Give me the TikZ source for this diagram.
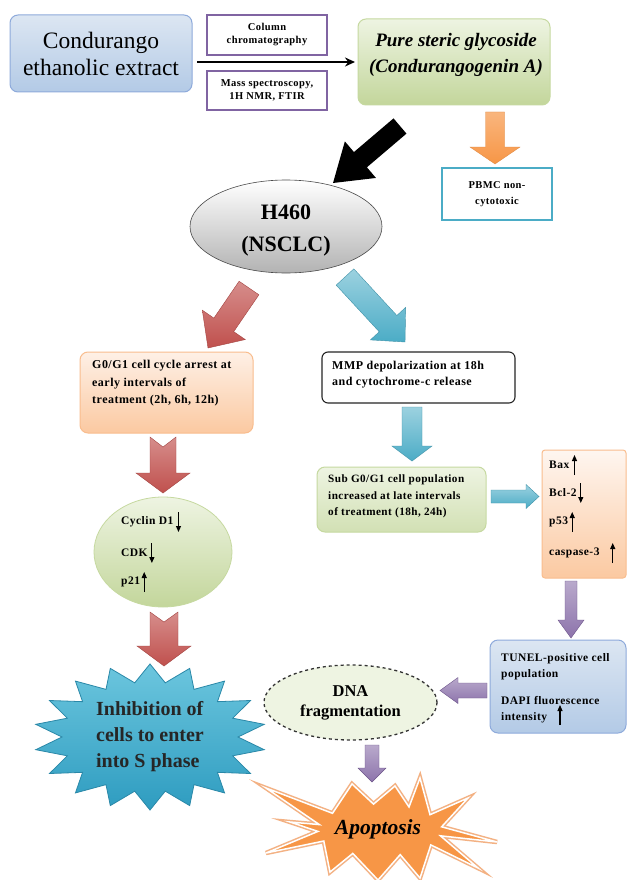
\documentclass[tikz,border=0pt]{standalone}
\usepackage{fontspec}
\setmainfont{Liberation Serif}
\newfontfamily\wideserif[LetterSpace=4]{Liberation Serif}
\usetikzlibrary{calc,shapes.geometric,arrows.meta}

\definecolor{blueA}{HTML}{DCE6F2}
\definecolor{blueB}{HTML}{B3CAE6}
\definecolor{blueBorder}{HTML}{8EAADB}
\definecolor{greenA}{HTML}{EEF4E2}
\definecolor{greenB}{HTML}{C3D69B}
\definecolor{greenBorder}{HTML}{C6D9A0}
\definecolor{orangeA}{HTML}{FEF0E6}
\definecolor{orangeB}{HTML}{FBC9A1}
\definecolor{orangeBorder}{HTML}{F9BD8E}
\definecolor{purpleB}{HTML}{8064A2}
\definecolor{cyanB}{HTML}{4BACC6}
\definecolor{redA}{HTML}{C0504D}
\definecolor{orangeFill}{HTML}{F79646}
\definecolor{orangeLight}{HTML}{F3B183}
\definecolor{starTop}{HTML}{6CC6DE}
\definecolor{starBot}{HTML}{2E9CC0}
\definecolor{starBorder}{HTML}{2A88A8}

% block arrow: style, start, end, shaft half-width, head half-width, head length, notch depth
\newcommand{\blkarrow}[7]{%
  \path ($(#3)!#6!(#2)$) coordinate (hb);
  \path[#1] ($(#2)!#4!90:(#3)$) -- ($(hb)!#4!90:(#3)$) -- ($(hb)!#5!90:(#3)$) -- (#3)
    -- ($(hb)!#5!-90:(#3)$) -- ($(hb)!#4!-90:(#3)$) -- ($(#2)!#4!-90:(#3)$)
    -- ($(#2)!#7!(#3)$) -- cycle;
}

\tikzset{
  bluebox/.style={draw=blueBorder, line width=1pt, rounded corners=8pt, top color=blueA, bottom color=blueB},
  greenbox/.style={draw=greenBorder, line width=1pt, rounded corners=8pt, top color=greenA, bottom color=greenB},
  orangebox/.style={draw=orangeBorder, line width=1pt, rounded corners=8pt, top color=orangeA, bottom color=orangeB},
  methodbox/.style={draw=purpleB, line width=1.6pt, fill=white, minimum width=120pt, minimum height=40pt,
    align=center, font=\wideserif\bfseries\fontsize{10.5}{13}\selectfont},
  smalltxt/.style={font=\wideserif\bfseries\fontsize{11.5}{16.5}\selectfont, inner sep=1pt, align=left},
  smallarrow/.style={line width=1.1pt, -{Triangle[length=6pt,width=5pt]}},
  redarrow/.style={top color=redA!65, bottom color=redA, draw=redA!85!black, line width=0.4pt},
  bluearrow/.style={top color=cyanB!55, bottom color=cyanB, draw=cyanB!85!black, line width=0.4pt},
  purplearrow/.style={top color=purpleB!55, bottom color=purpleB!90, draw=purpleB!85!black, line width=0.4pt},
  orangearrow/.style={top color=orangeFill!70, bottom color=orangeFill, draw=orangeFill!90!black, line width=0.3pt},
}

\begin{document}
\begin{tikzpicture}[x=1pt, y=-1pt]
\useasboundingbox (0,0) rectangle (627,880);
\fill[white] (0,0) rectangle (627,880);

% ---------- top row ----------
\node[bluebox, minimum width=182pt, minimum height=77pt, align=center,
      font=\fontsize{23.5}{27}\selectfont] (cond) at (101,53.5) {Condurango\\ethanolic extract};
\node[methodbox] (col) at (267,35) {Column\\chromatography};
\node[methodbox, minimum height=39pt] (mass) at (267,90.5) {Mass spectroscopy,\\1H NMR, FTIR};
\node[greenbox, minimum width=192pt, minimum height=86pt] (pure) at (454,62) {};
\node[align=center, font=\bfseries\itshape\fontsize{19}{26}\selectfont] (pureT) at (456,55)
      {Pure steric glycoside\\(Condurangogenin A)};
\coordinate (t1) at (197,62);
\coordinate (t2) at (355,62);
\draw[line width=1.6pt, -{Stealth[length=10pt,width=9pt]}] (t1) -- (t2);

\coordinate (o1) at (495,112);
\coordinate (o2) at (495,164);
\blkarrow{orangearrow}{o1}{o2}{9.5pt}{25pt}{17pt}{0pt}
\node[draw=cyanB, line width=1.6pt, fill=white, minimum width=110pt, minimum height=52pt, align=center,
      font=\wideserif\bfseries\fontsize{10.5}{16}\selectfont] (pbmc) at (497,194) {PBMC non-\\cytotoxic};

\coordinate (k1) at (400,126);
\coordinate (k2) at (333,183);
\blkarrow{fill=black}{k1}{k2}{10pt}{24pt}{36pt}{0pt}

% ---------- H460 ----------
\node[ellipse, draw=gray!60!black, line width=0.6pt, top color=white, bottom color=gray!60,
      minimum width=192pt, minimum height=93pt] (h460) at (286,226.5) {};
\node[align=center, font=\bfseries\fontsize{22}{32}\selectfont] (h460t) at (286,231) {H460\\(NSCLC)};

\coordinate (r1) at (249,288);
\coordinate (r2) at (208,348);
\blkarrow{redarrow}{r1}{r2}{12pt}{26pt}{28pt}{0pt}
\coordinate (b1) at (345,277);
\coordinate (b2) at (405,342);
\blkarrow{bluearrow}{b1}{b2}{12pt}{24pt}{25pt}{0pt}

% ---------- second row ----------
\node[orangebox, minimum width=173pt, minimum height=81pt] (g0) at (166.5,392.5) {};
\node[smalltxt, font=\wideserif\bfseries\fontsize{12}{17.5}\selectfont, anchor=north west] (g0t) at (91,359)
      {G0/G1 cell cycle arrest at\\early intervals of\\treatment (2h, 6h, 12h)};
\node[draw=black!85, line width=1.1pt, rounded corners=6pt, fill=white, minimum width=193pt, minimum height=51pt] (mmp) at (418.5,377.5) {};
\node[smalltxt, font=\wideserif\bfseries\fontsize{12}{16}\selectfont, anchor=north west] (mmpt) at (331,360)
      {MMP depolarization at 18h\\and cytochrome-c release};

\coordinate (r3) at (163,437);
\coordinate (r4) at (163,493);
\blkarrow{redarrow}{r3}{r4}{13pt}{27pt}{20pt}{10pt}
\coordinate (b3) at (412,407);
\coordinate (b4) at (412,461);
\blkarrow{bluearrow}{b3}{b4}{10pt}{20pt}{15pt}{0pt}

% ---------- circle ----------
\node[ellipse, draw=greenBorder, line width=0.8pt, top color=greenA, bottom color=greenB,
      minimum width=138pt, minimum height=110pt] (circ) at (163,552) {};
\node[smalltxt, anchor=west] (cyc) at (120,522) {Cyclin D1};
\node[smalltxt, anchor=west] (cdk) at (120,553) {CDK};
\node[smalltxt, anchor=west] (p21) at (120,582) {p21};
\draw[smallarrow] ($(cyc.east)+(4,-10)$) -- ($(cyc.east)+(4,10)$);
\draw[smallarrow] ($(cdk.east)+(3,-10)$) -- ($(cdk.east)+(3,10)$);
\draw[smallarrow] ($(p21.east)+(3,10)$) -- ($(p21.east)+(3,-10)$);

% ---------- Sub G0/G1 ----------
\node[greenbox, top color=greenA, bottom color=greenB!75, minimum width=169pt, minimum height=65pt] (sub) at (401.5,499.5) {};
\node[smalltxt, font=\wideserif\bfseries\fontsize{11.2}{16.5}\selectfont, anchor=north west] (subt) at (327,474)
      {Sub G0/G1 cell population\\increased at late intervals\\of treatment (18h, 24h)};
\coordinate (b5) at (491,496.5);
\coordinate (b6) at (539,496.5);
\blkarrow{bluearrow}{b5}{b6}{6.5pt}{12pt}{13pt}{0pt}

\node[orangebox, rounded corners=3pt, top color=orangeA!60, bottom color=orangeB,
      minimum width=84pt, minimum height=128pt] (markers) at (584,514) {};
\node[smalltxt, anchor=west] (bax) at (548,465) {Bax};
\node[smalltxt, anchor=west] (bcl) at (548,493) {Bcl-2};
\node[smalltxt, anchor=west] (p53) at (548,522) {p53};
\node[smalltxt, anchor=west] (casp) at (548,553) {caspase-3};
\draw[smallarrow] ($(bax.east)+(4,10)$) -- ($(bax.east)+(4,-10)$);
\draw[smallarrow] ($(bcl.east)+(3,-10)$) -- ($(bcl.east)+(3,10)$);
\draw[smallarrow] ($(p53.east)+(3,10)$) -- ($(p53.east)+(3,-10)$);
\draw[smallarrow] ($(casp.east)+(12,10)$) -- ($(casp.east)+(12,-10)$);

\coordinate (p1) at (571,581);
\coordinate (p2) at (571,638);
\blkarrow{purplearrow}{p1}{p2}{6pt}{13pt}{18pt}{0pt}

% ---------- TUNEL ----------
\node[bluebox, minimum width=136pt, minimum height=93pt] (tunelbox) at (558,686.5) {};
\node[smalltxt, anchor=north west] (tunel) at (500,652) {TUNEL-positive cell\\population};
\node[smalltxt, anchor=north west] (dapi) at (500,695) {DAPI fluorescence\\intensity};
\coordinate (ia1) at (560,725);
\coordinate (ia2) at (560,705);
\draw[smallarrow] (ia1) -- (ia2);

\coordinate (p3) at (487,690.5);
\coordinate (p4) at (440,690.5);
\blkarrow{purplearrow}{p3}{p4}{7.5pt}{13pt}{18pt}{0pt}

% ---------- DNA fragmentation ----------
\node[ellipse, draw=black!80, dashed, line width=1.3pt, fill=greenA, minimum width=173pt, minimum height=75pt,
      align=center, font=\bfseries\fontsize{16.5}{20}\selectfont] (dna) at (350.5,702.5) {DNA\\fragmentation};

% ---------- Inhibition star ----------
\shade[top color=starTop, bottom color=starBot, draw=starBorder, line width=0.8pt]
  plot[samples=37, domain=0:36, variable=\k]
  ({150 + (102 + 14*cos(\k*180))*cos(\k*10+90)}, {737 + (64 + 9*cos(\k*180))*sin(\k*10+90)}) -- cycle;
\node[align=left, font=\bfseries\fontsize{20}{26}\selectfont, text=black!85] (inhib) at (150,737)
  {Inhibition of\\cells to enter\\into S phase};

\coordinate (r5) at (164,612);
\coordinate (r6) at (164,666);
\blkarrow{redarrow}{r5}{r6}{14pt}{27pt}{20pt}{10pt}

% ---------- Apoptosis star ----------
\path[fill=orangeFill, draw=white, line width=1.5pt, preaction={draw=orangeLight, line width=4.5pt}]
  (266,788) -- (332.5,813.3) -- (352,784) -- (373.5,804.1) -- (395,786) -- (409,807) -- (420,778)
  -- (430,814.7) -- (468,798) -- (441.6,826.8) -- (497,842) -- (440.4,835.8) -- (478,868)
  -- (430.8,844.9) -- (420,878) -- (400.2,854.6) -- (378,880) -- (352.8,853.4) -- (330,872)
  -- (323.8,841) -- (266,853) -- (318,831.4) -- (290,822) -- (319.4,824.6) -- cycle;
\node[font=\bfseries\itshape\fontsize{21.5}{24}\selectfont] (apop) at (378,829) {Apoptosis};

\coordinate (p5) at (372,745);
\coordinate (p6) at (372,782);
\blkarrow{purplearrow}{p5}{p6}{7pt}{14pt}{14pt}{0pt}

\end{tikzpicture}
\end{document}
